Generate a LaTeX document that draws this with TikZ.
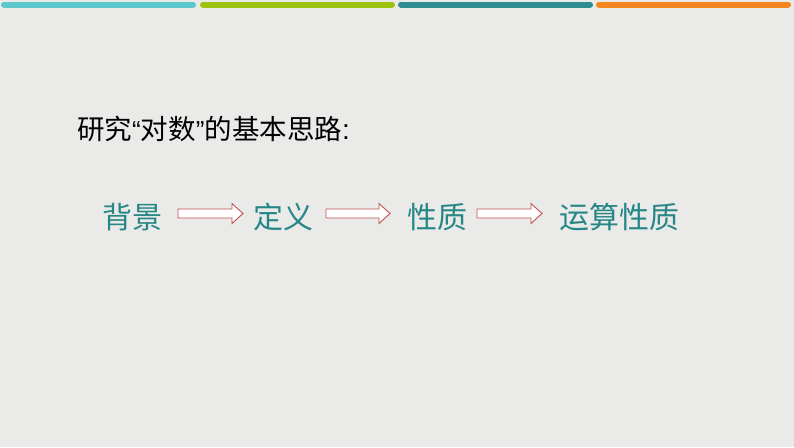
\documentclass[tikz,border=0pt]{standalone}
\usepackage{fontspec}
\newfontfamily\cjk{Noto Sans CJK SC}
\newfontfamily\latinq{Liberation Sans}
\definecolor{bgc}{HTML}{EAEAE8}
\definecolor{barA}{HTML}{5CC8CB}
\definecolor{barB}{HTML}{9DC20F}
\definecolor{barC}{HTML}{2E8C92}
\definecolor{barD}{HTML}{F5861F}
\definecolor{tealtxt}{HTML}{268786}
\definecolor{arrred}{HTML}{C0504D}
\tikzset{
  topbar/.style={line cap=round, line width=6pt},
  titletxt/.style={inner sep=0pt, anchor=west, font=\cjk\fontsize{27.5}{32}\selectfont, text=black},
  flowtxt/.style={inner sep=0pt, font=\cjk\fontsize{30}{34}\selectfont, text=tealtxt},
  blockarr/.style={draw=arrred, fill=white, line width=0.9pt, line join=miter}
}
\newcommand\hexbar[3]{\fill[#3] (#1,-439) -- (#1+3,-431) -- (#2-3,-431) -- (#2,-439) -- (#2-3,-447) -- (#1+3,-447) -- cycle;}
\begin{document}
\begin{tikzpicture}[x=1pt,y=-1pt]
\useasboundingbox (0,0) rectangle (794,447);
\fill[bgc] (0,0) rectangle (794,447);
% top bars
\draw[topbar, barA] (4,4.5) -- (193,4.5);
\draw[topbar, barB] (203,4.5) -- (392,4.5);
\draw[topbar, barC] (401,4.5) -- (590,4.5);
\draw[topbar, barD] (599,4.5) -- (788,4.5);
% bottom bars
\hexbar{1}{197}{barA}
\hexbar{199}{395}{barB}
\hexbar{397}{593}{barC}
\hexbar{595}{791}{barD}
% title
\node[titletxt] (title) at (77,129) {研究{\latinq\fontsize{26}{30}\selectfont “}对数{\latinq\fontsize{26}{30}\selectfont ”}的基本思路{\latinq\fontsize{28}{32}\selectfont :}};
% flow
\node[flowtxt] (bg) at (132,217) {背景};
\node[flowtxt] (dy) at (283,217) {定义};
\node[flowtxt] (xz) at (437,217) {性质};
\node[flowtxt] (ys) at (619,217) {运算性质};
\coordinate (a1s) at (178,213.5); \coordinate (a1e) at (243,213.5);
\coordinate (a2s) at (326,213.5); \coordinate (a2e) at (390,213.5);
\coordinate (a3s) at (477,213.5); \coordinate (a3e) at (542,213.5);
\foreach \s/\e in {a1s/a1e, a2s/a2e, a3s/a3e}{
  \draw[blockarr] ([yshift=-4.5pt]\s) -- ([xshift=-11pt,yshift=-4.5pt]\e) -- ([xshift=-11pt,yshift=-10pt]\e) -- (\e) -- ([xshift=-11pt,yshift=10pt]\e) -- ([xshift=-11pt,yshift=4.5pt]\e) -- ([yshift=4.5pt]\s) -- cycle;
}
\end{tikzpicture}
\end{document}
